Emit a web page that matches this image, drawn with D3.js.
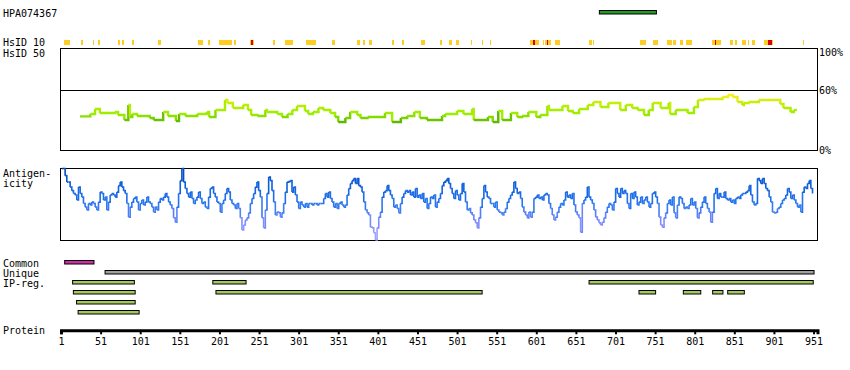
<!DOCTYPE html>
<html><head><meta charset="utf-8">
<script src="https://cdn.jsdelivr.net/npm/d3@7"></script>
<style>
html,body{margin:0;padding:0;background:#fff;}
svg{display:block;}
text{font-family:"DejaVu Sans Mono",monospace;font-size:10px;fill:#000;}
</style></head><body>
<svg id="c" width="850" height="370"></svg>
<script>
// ---------------- data ----------------
const antibodyName = "HPA074367";
const antigenRegion = [[680, 752]];
const proteinLength = 956;
const tickValues = [1,51,101,151,201,251,301,351,401,451,501,551,601,651,701,751,801,851,901,951];

const hs10Orange = [[5,12],[26,29],[41,43],[48,50],[73,76],[78,81],[91,93],[123,127],[174,180],[187,189],
  [201,217],[220,222],[240,245],[269,271],[284,287],[288,294],[310,323],[343,347],[375,379],[382,385],
  [390,393],[419,422],[432,434],[456,460],[480,482],[491,494],[500,503],[518,520],[532,534],[542,544],
  [593,605],[609,611],[612,619],[625,631],[668,671],[672,674],[732,739],[748,755],[766,772],[774,777],
  [783,786],[790,797],[823,834],[845,849],[852,855],[861,866],[868,870],[873,877],[889,900],[938,939]];
const hs10Red = [[241,243],[597,599],[614,616],[826,827],[894,898]];

const hs50Labels = [100, 60, 0];
const hs50Res = [25,38,44,50,69,73,81,86,88,91,97,113,118,130,136,146,150,158,173,185,188,196,208,211,218,231,237,241,249,259,
  261,274,280,287,293,299,309,313,319,326,332,341,347,351,360,366,375,379,388,410,419,430,438,447,454,463,482,486,501,509,
  520,522,540,546,553,558,569,577,583,591,601,606,615,617,634,641,647,655,666,673,682,692,707,714,722,729,737,743,748,758,
  768,770,777,792,800,805,812,836,843,849,855,861,863,869,882,909,913,922,926,930];
const hs50Val = [35.2,37.4,42.2,38.4,39.3,36.5,31.7,46,34.6,37.4,35.5,33.6,31.7,39.3,35.5,30.8,37.4,35.5,37.4,39.3,34.6,41.2,50.8,47.9,43.1,46,41.2,36.5,35.5,41.2,
  39.3,37.4,34.6,37.4,41.2,45,40.3,37.4,39.3,43.1,41.2,38.4,34.6,29.8,33.6,39.3,36.5,33.6,34.6,38.4,29.8,33.6,35.5,39.3,33.6,31.7,35.5,37.4,40.3,37.4,
  42.2,31.7,34.6,29.8,40.3,31.7,38.4,34.6,35.5,39.3,34.6,36.5,45,41.2,45,40.3,38.4,42.2,46,48.9,44.1,47.9,41.2,46,43.1,41.2,36.5,41.2,47.9,43.1,
  47.9,37.4,41.2,38.4,44.1,50.8,51.7,53.6,55.5,53.6,48.9,46,47.9,48.9,50.8,47,43.1,39.3,41.2,41.2];

// antigenicity profile, read every ~2.1 residues starting at residue 2 (0 = min, 100 = max)
const antStart = 2, antStep = 2.106;
const antVal = [
  100,100,90,81,81,74,69,65,63,56, 74,65,60,51,46,42,51,49,53,51, 46,42,53,67,65,56,60,42,53,63,
  65,63,60,67,76,81,74,69,65,51, 32,46,53,58,60,53,42,51,56,49, 53,60,53,51,46,39,46,42,53,58,
  56,60,65,60,53,49,44,31,25,46, 65,83,100,81,72,65,60,67,58,51, 56,60,67,58,51,53,46,44,60,72,
  74,65,60,53,51,39,51,56,65,72, 67,56,51,49,44,51,44,31,14,21, 28,31,38,51,58,65,74,81,69,60,
  31,17,42,65,88,83,69,53,35,39, 38,32,38,51,67,81,82,
  83,67,74,63,53,44,53,49,46,51, 46,51,51,49,51,51,49,51,51,51, 58,65,60,67,58,53,46,51,44,51,
  53,49,46,49,63,72,79,83,86,79, 86,76,74,67,53,42,38,35,18,17, 10,0,17,32,39,60,67,69,76,69,
  63,58,46,49,44,38,51,60,65,69, 67,69,63,67,60,72,60,63,58,65, 53,58,44,51,60,58,63,46,53,58,
  65,76,81,83,86,79,72,65,58,69, 63,56,65,79,67,53,42,44,38,35, 28,24,17,31,46,58,76,67,60,58,
  51,51,46,53,42,39,38,35,39,44, 53,58,63,67,81,72,65,67,58,46, 39,35,31,39,32,39,58,60,63,58,
  60,56,63,65,63,51,
  44,35,28,32,39,46,51,49,56,67, 60,63,58,65,49,39,35,31,11,51, 56,60,74,60,56,51,42,32,28,24,
  21,25,31,39,46,51,49,42,53,72, 65,60,72,65,69,65,51,44,65,58, 67,60,49,53,60,51,56,60,53,46,
  51,65,67,60,51,32,21,18,31,38, 51,56,49,60,38,31,49,60,58,51, 44,46,44,49,58,49,53,44,31,38,
  46,53,60,51,44,39,25,39,65,72, 58,65,60,60,67,58,56,58,53,56, 51,58,60,58,63,65,65,67,69,76,
  63,53,49,51,86,83,79,86,79,72, 69,60,53,39,38,39,44,46,51,56, 58,63,72,67,58,63,56,51,46,49,
  39,67,74,72,79,83,72,65];

const commonRegions = [[5,42]];
const uniqueRegions = [[56,951]];
const ipRegRows = [
  [[15,93],[192,234],[667,950]],
  [[16,94],[196,532],[730,751],[786,808],[823,836],[842,863]],
  [[20,94]],
  [[22,99]]
];

// ---------------- drawing ----------------
const svg = d3.select("#c");
const x = d3.scaleLinear().domain([1, proteinLength]).range([61, 817.5]);
const hsY = d3.scaleLinear().domain([0, 100]).range([153.3, 48.3]);
const antY = d3.scaleLinear().domain([0, 100]).range([240, 168.5]);
const hsColor = d3.scaleLinear().domain([30,33,37,45,52,56])
  .range(["#5cb800","#77cc00","#99ee00","#b4ee00","#ddee11","#ffee22"]).clamp(true);
const antColor = d3.scaleLinear().domain([0,25,50,75,100])
  .range(["#aaaaff","#7f8cff","#2a78f0","#1060dd","#0048b0"]).clamp(true);

function label(t, lx, ly) {
  svg.append("text").attr("x", lx).attr("y", ly).text(t);
}

// left labels
label(antibodyName, 3, 16.5);
label("HsID 10", 3, 45.5);
label("HsID 50", 3, 56.5);
label("Antigen-", 3, 176.5);
label("icity", 3, 186.5);
label("Common", 3, 266.5);
label("Unique", 3, 276.5);
label("IP-reg.", 3, 286.5);
label("Protein", 3, 333.5);

function bars(data, top, fill) {
  svg.append("g").selectAll("rect").data(data).join("rect")
    .attr("x", d => x(d[0]) + 0.5)
    .attr("y", top + 0.5)
    .attr("width", d => x(d[1]) - x(d[0]))
    .attr("height", 3.5)
    .attr("fill", fill).attr("stroke", "#000").attr("stroke-width", 1);
}

// antigen bar
bars(antigenRegion, 10, "#229922");

// HsID 10 row
svg.append("g").attr("shape-rendering", "crispEdges").selectAll("rect").data(hs10Orange).join("rect")
  .attr("x", d => x(d[0])).attr("y", 40).attr("width", d => Math.max(1, x(d[1]) - x(d[0]))).attr("height", 5)
  .attr("fill", "#ffcc22");
svg.append("g").attr("shape-rendering", "crispEdges").selectAll("rect").data(hs10Red).join("rect")
  .attr("x", d => x(d[0])).attr("y", 40).attr("width", d => Math.max(1, x(d[1]) - x(d[0]))).attr("height", 5)
  .attr("fill", "#dd0000");

// HsID 50 frame
const f1 = svg.append("g").attr("shape-rendering", "crispEdges");
f1.append("rect").attr("x", 60.5).attr("y", hsY(100)).attr("width", 757).attr("height", 150 - hsY(100))
  .attr("fill", "none").attr("stroke", "#000");
f1.append("line").attr("x1", 60.5).attr("x2", 817.5).attr("y1", hsY(60)).attr("y2", hsY(60)).attr("stroke", "#000");
hs50Labels.forEach(v => {
  const yy = v === 100 ? hsY(v) + 7.7 : (v === 0 ? 153.5 : hsY(v) + 3.8);
  label(v + "%", 819, yy);
});

// HsID 50 line (step)
const hsG = svg.append("g");
for (let i = 0; i < hs50Val.length; i++) {
  const x0 = x(hs50Res[i]), x1 = x(hs50Res[i + 1]);
  const y0 = hsY(hs50Val[i]);
  let p = `M${x0},${y0}H${x1}`;
  if (i + 1 < hs50Val.length) p += `V${hsY(hs50Val[i + 1])}`;
  hsG.append("path").attr("d", p).attr("fill", "none")
    .attr("stroke", hsColor(hs50Val[i])).attr("stroke-width", 2.4);
}

// Antigenicity frame
svg.append("rect").attr("shape-rendering", "crispEdges")
  .attr("x", 60.5).attr("y", 168.5).attr("width", 757).attr("height", 71.5)
  .attr("fill", "none").attr("stroke", "#000");

// Antigenicity line (step)
const antG = svg.append("g");
const antX = i => x(antStart + i * antStep);
for (let i = 0; i < antVal.length - 1; i++) {
  const p = `M${antX(i)},${antY(antVal[i])}H${antX(i + 1)}V${antY(antVal[i + 1])}`;
  antG.append("path").attr("d", p).attr("fill", "none")
    .attr("stroke", antColor((antVal[i] + antVal[i + 1]) / 2)).attr("stroke-width", 1.6);
}

// Common / Unique / IP-reg
bars(commonRegions, 260, "#cc2ea8");
bars(uniqueRegions, 270, "#a0a0a0");
ipRegRows.forEach((row, k) => bars(row, 280 + k * 10, "#a3c95c"));

// Protein axis
const axis = d3.axisBottom(x).tickValues(tickValues).tickSize(4).tickSizeOuter(4).tickFormat(d3.format("d"));
const ag = svg.append("g").attr("transform", "translate(0,330.3)").call(axis);
ag.select(".domain").attr("stroke", "#000").attr("stroke-width", 3);
ag.selectAll(".tick line").attr("stroke", "#000").attr("stroke-width", 2);
ag.selectAll(".tick text").attr("y", 14.8).attr("dy", 0).attr("fill", "#000");
</script>
</body></html>
